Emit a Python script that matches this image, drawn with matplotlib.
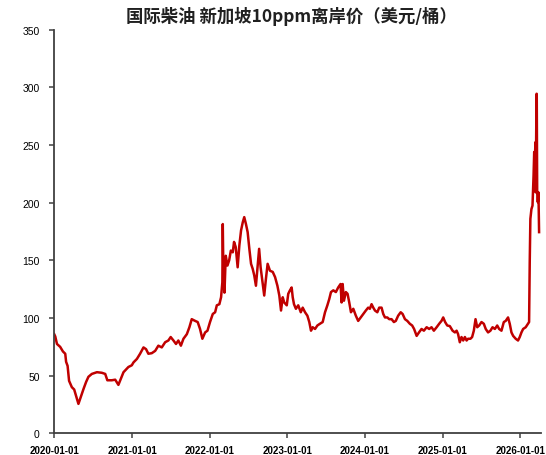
import matplotlib
matplotlib.use("Agg")
import matplotlib.pyplot as plt
import matplotlib.dates as mdates
import pandas as pd

title = "国际柴油 新加坡10ppm离岸价（美元/桶）"

dates = [
    "2020-01-01", "2020-01-06", "2020-01-14", "2020-01-29", "2020-02-11", "2020-02-22", "2020-02-26",
    "2020-03-04", "2020-03-11", "2020-03-24", "2020-04-04", "2020-04-13", "2020-04-24", "2020-05-05",
    "2020-05-18", "2020-05-30", "2020-06-10", "2020-06-26", "2020-07-20", "2020-08-12", "2020-08-28",
    "2020-09-07", "2020-09-28", "2020-10-14", "2020-10-29", "2020-11-09", "2020-11-22", "2020-12-15",
    "2020-12-31", "2021-01-08", "2021-01-24", "2021-02-08", "2021-02-24", "2021-03-08", "2021-03-19",
    "2021-04-04", "2021-04-20", "2021-05-05", "2021-05-21", "2021-06-06", "2021-06-21", "2021-07-02",
    "2021-07-15", "2021-07-27", "2021-08-07", "2021-08-19", "2021-08-31", "2021-09-16", "2021-09-28",
    "2021-10-09", "2021-10-25", "2021-11-06", "2021-11-17", "2021-11-28", "2021-12-11", "2021-12-22",
    "2022-01-03", "2022-01-16", "2022-01-27", "2022-02-04", "2022-02-16", "2022-02-24", "2022-03-02",
    "2022-03-04", "2022-03-07", "2022-03-12", "2022-03-18", "2022-03-26", "2022-04-03", "2022-04-11",
    "2022-04-20", "2022-04-26", "2022-05-04", "2022-05-13", "2022-05-21", "2022-05-29", "2022-06-06",
    "2022-06-13", "2022-06-21", "2022-06-29", "2022-07-07", "2022-07-15", "2022-07-23", "2022-07-30",
    "2022-08-07", "2022-08-15", "2022-08-22", "2022-08-29", "2022-09-08", "2022-09-15", "2022-09-23",
    "2022-10-01", "2022-10-12", "2022-10-25", "2022-11-05", "2022-11-16", "2022-11-25", "2022-12-03",
    "2022-12-11", "2022-12-18", "2022-12-30", "2023-01-06", "2023-01-14", "2023-01-22", "2023-01-27",
    "2023-02-02", "2023-02-11", "2023-02-22", "2023-03-06", "2023-03-15", "2023-03-26", "2023-04-06",
    "2023-04-15", "2023-04-23", "2023-05-01", "2023-05-12", "2023-05-23", "2023-06-04", "2023-06-17",
    "2023-06-28", "2023-07-09", "2023-07-18", "2023-07-26", "2023-08-06", "2023-08-18", "2023-08-29",
    "2023-09-09", "2023-09-14", "2023-09-19", "2023-09-25", "2023-10-04", "2023-10-12", "2023-10-20",
    "2023-10-28", "2023-11-08", "2023-11-20", "2023-12-01", "2023-12-13", "2023-12-25", "2024-01-06",
    "2024-01-17", "2024-01-25", "2024-02-02", "2024-02-10", "2024-02-18", "2024-02-29", "2024-03-09",
    "2024-03-20", "2024-03-28", "2024-04-05", "2024-04-16", "2024-04-25", "2024-05-06", "2024-05-17",
    "2024-05-26", "2024-06-06", "2024-06-18", "2024-06-27", "2024-07-08", "2024-07-19", "2024-07-31",
    "2024-08-11", "2024-08-20", "2024-09-01", "2024-09-12", "2024-09-24", "2024-10-05", "2024-10-18",
    "2024-10-30", "2024-11-10", "2024-11-21", "2024-12-04", "2024-12-16", "2024-12-27", "2025-01-04",
    "2025-01-13", "2025-01-23", "2025-02-04", "2025-02-17", "2025-02-28", "2025-03-08", "2025-03-15",
    "2025-03-23", "2025-03-31", "2025-04-08", "2025-04-16", "2025-04-24", "2025-05-01", "2025-05-12",
    "2025-05-20", "2025-05-28", "2025-06-05", "2025-06-13", "2025-06-22", "2025-07-03", "2025-07-14",
    "2025-07-23", "2025-08-03", "2025-08-14", "2025-08-24", "2025-09-04", "2025-09-15", "2025-09-24",
    "2025-10-05", "2025-10-16", "2025-10-25", "2025-11-05", "2025-11-13", "2025-11-21", "2025-11-29",
    "2025-12-11", "2025-12-22", "2025-12-30", "2026-01-07", "2026-01-15", "2026-01-27", "2026-02-07",
    "2026-02-12", "2026-02-15", "2026-02-18", "2026-02-23", "2026-02-28", "2026-03-05", "2026-03-08",
    "2026-03-11", "2026-03-14", "2026-03-15", "2026-03-19", "2026-03-20", "2026-03-22", "2026-03-25",
    "2026-03-28", "2026-03-31",
]

prices = [
    86, 84, 77.5, 75, 71, 69, 62,
    58.5, 45.5, 40, 38, 32.5, 25.5, 31.5,
    38.5, 44.5, 49, 51.5, 53, 52.5, 51.5,
    46, 46, 46.5, 42, 47, 53, 57.5,
    59, 61.5, 64.5, 69, 74.5, 73, 69,
    69.5, 71.5, 76, 74.5, 79, 80.5, 83.5,
    80.5, 77.5, 80.5, 76, 82, 86, 92,
    99, 97.5, 96.5, 90.5, 82, 87.5, 89,
    96.5, 103.5, 105, 111, 112, 118, 131,
    181.5, 137, 122, 154, 145.5, 150, 158.5,
    157, 166, 161.5, 144, 163, 176, 183,
    187.5, 181.5, 174.5, 160, 147, 142.5, 137,
    128, 145.5, 160, 144, 129.5, 119.5, 134,
    147, 141, 140, 135.5, 128, 119.5, 106.5,
    118, 113.5, 111, 121, 124, 126.5, 118,
    112, 108, 111, 105, 109, 105, 102,
    96.5, 89, 92, 90.5, 93.5, 95, 96.5,
    105, 111, 116.5, 122.5, 124, 122.5, 126.5,
    129.5, 113.5, 129.5, 115, 122.5, 121, 113.5,
    105, 108, 102, 97.5, 100.5, 103.5, 106.5,
    109, 108, 112, 109, 106.5, 105, 109,
    109, 103.5, 100.5, 100.5, 99, 99, 96.5,
    97.5, 102, 105, 103.5, 99, 97.5, 95,
    93.5, 90.5, 84.5, 87.5, 90.5, 89, 92,
    90.5, 92, 89, 92, 95, 97.5, 100.5,
    96.5, 93.5, 93, 89, 87.5, 89, 86,
    79, 83.5, 80.5, 83.5, 80.5, 82, 82,
    83.5, 89, 99, 92, 93.5, 96.5, 95,
    90.5, 87.5, 89, 92, 90.5, 93.5, 90.5,
    89, 96.5, 97.5, 100.5, 95, 87.5, 84.5,
    82, 80.5, 83.5, 87.5, 90.5, 92, 95,
    96.5, 148.5, 186, 194.5, 197.5, 223.5, 244,
    238, 252.5, 209, 294.5, 294.5, 209, 200.5,
    209, 174.5,
]

year_ticks = ["2020-01-01", "2021-01-01", "2022-01-01", "2023-01-01",
              "2024-01-01", "2025-01-01", "2026-01-01"]
y_ticks = [0, 50, 100, 150, 200, 250, 300, 350]

plt.rcParams['font.family'] = ['Liberation Sans', 'Noto Sans CJK SC', 'DejaVu Sans']

fig = plt.figure(figsize=(5.46, 4.56), dpi=100)
ax = fig.add_axes([54.2 / 546, (456 - 434.3) / 456, (541 - 54.2) / 546, (434.3 - 30.8) / 456])

x = pd.to_datetime(dates)
ax.plot(x, prices, color="#C00000", linewidth=1.8, solid_joinstyle="round")

ax.set_xlim(pd.Timestamp("2020-01-01"), pd.Timestamp("2026-04-09"))
ax.set_ylim(0, 350)
ax.set_yticks(y_ticks)
ax.set_xticks(pd.to_datetime(year_ticks))
ax.xaxis.set_major_formatter(mdates.DateFormatter("%Y-%m-%d"))

for s in ["top", "right"]:
    ax.spines[s].set_visible(False)
for s in ["left", "bottom"]:
    ax.spines[s].set_color("#404040")
    ax.spines[s].set_linewidth(1.3)

ax.tick_params(axis="both", direction="out", length=3.5, width=1.1, color="#404040")
ax.tick_params(axis="y", labelsize=7.5, pad=7)
ax.tick_params(axis="x", labelsize=7, pad=5)
for lab in ax.get_xticklabels():
    lab.set_fontweight("bold")

fig.text(291 / 546, 1 - 17 / 456, title, ha="center", va="center", fontsize=12.5,
         fontweight="bold", family=['Noto Sans CJK SC', 'DejaVu Sans'], color="#202020")

fig.savefig("out.png", dpi=100)
